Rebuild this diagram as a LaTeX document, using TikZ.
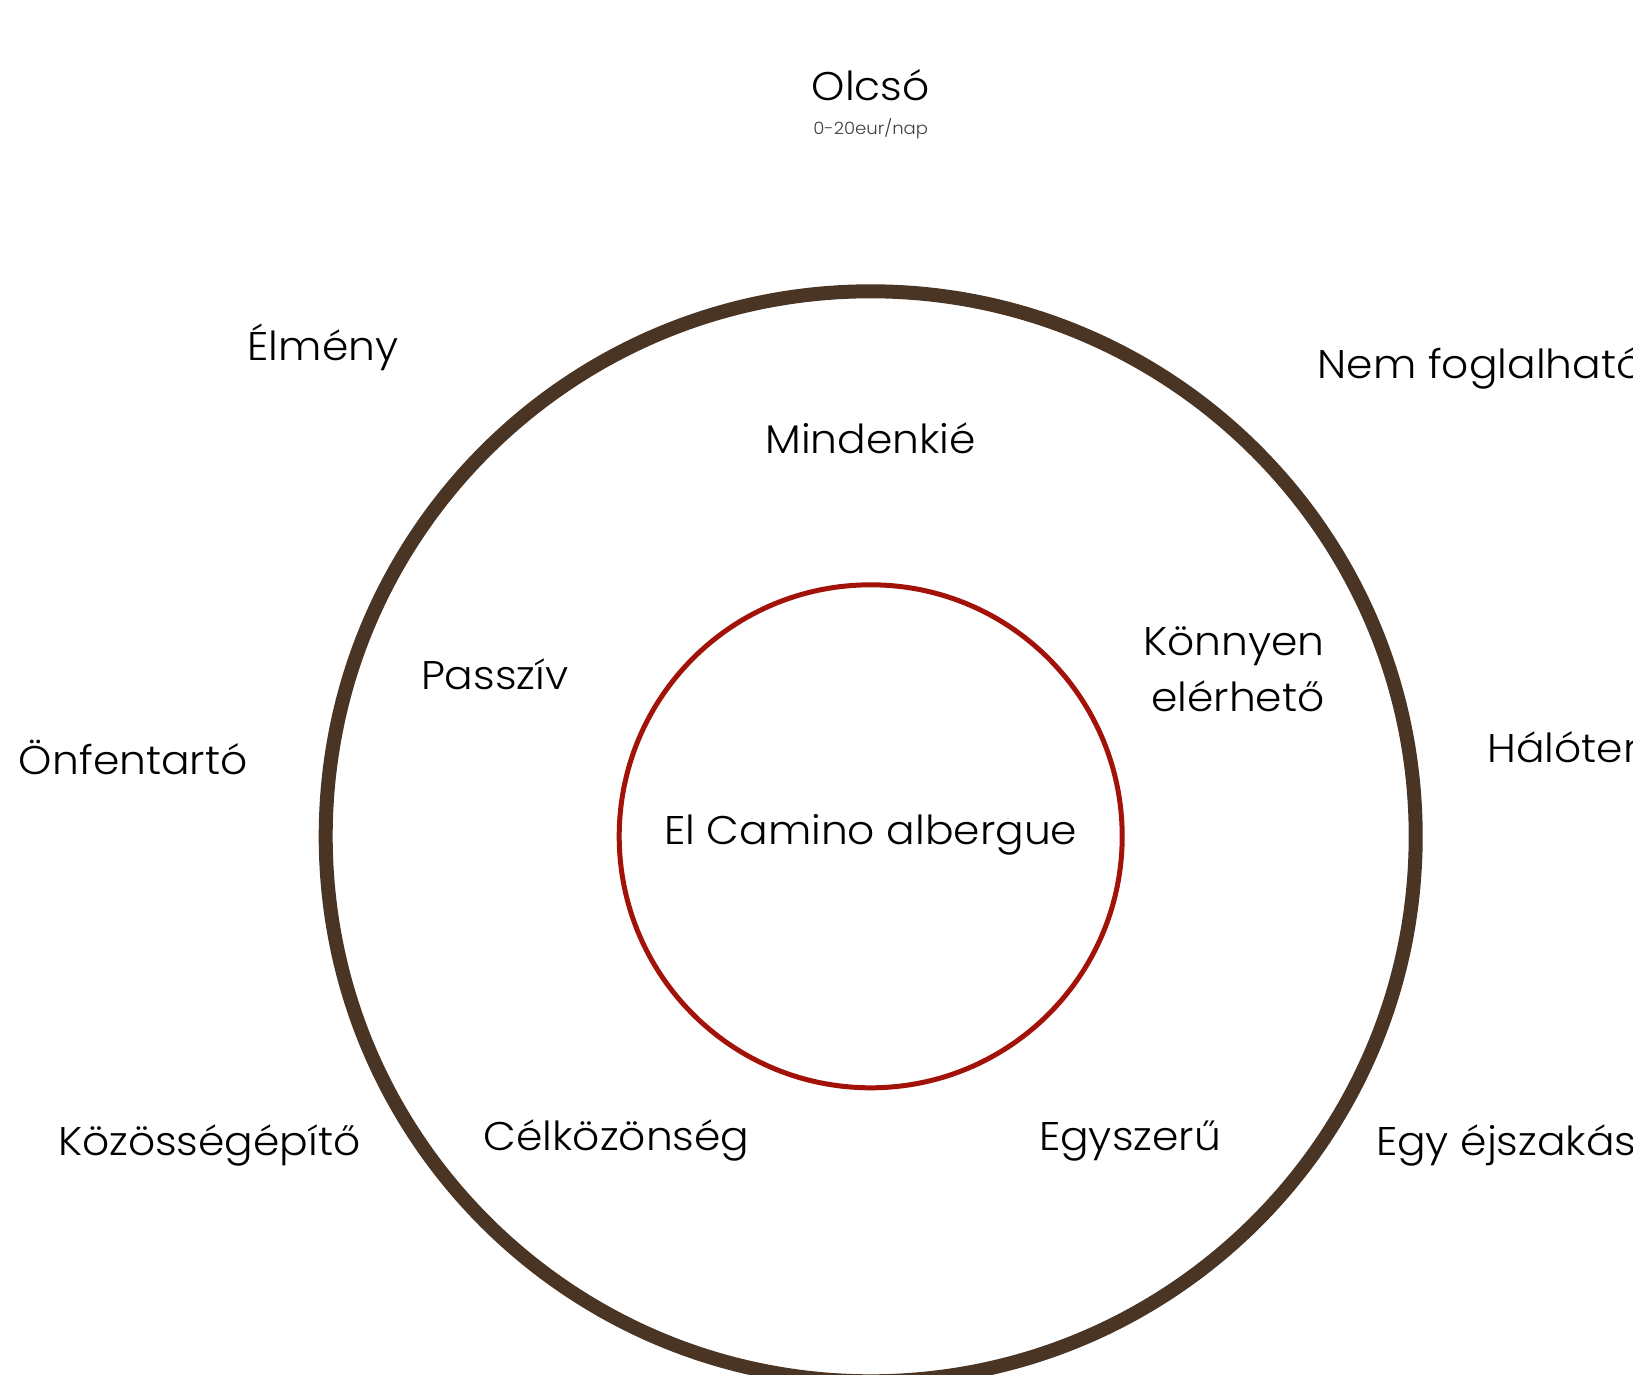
\documentclass[tikz,border=0pt]{standalone}
\usepackage{fontspec}
\setmainfont{Poppins}[UprightFont=* Light, FakeStretch=1.06]
\definecolor{outerbrown}{HTML}{4A3524}
\definecolor{innerred}{HTML}{A31208}
\begin{document}
\begin{tikzpicture}[x=1pt,y=-1pt,
  lbl/.style={inner sep=0pt, font=\fontsize{40}{44}\selectfont, anchor=base},
  lblL/.style={lbl, anchor=base west},
  small/.style={inner sep=0pt, font=\fontsize{17}{19}\selectfont, text=black!75, anchor=base}]
\useasboundingbox (0,0) rectangle (1633,1374);
\clip (0,0) rectangle (1633,1374);
\fill[white] (0,0) rectangle (1633,1374);
\coordinate (c) at (870.7,836.3);
\draw[outerbrown, line width=14pt] (c) circle[radius=545];
\draw[innerred, line width=5pt] (c) circle[radius=251.5];
\node[lbl] (olcso) at (870.7,100) {Olcsó};
\node[small] (ar) at (870.7,134) {0-20eur/nap};
\node[lbl] (elmeny) at (323,360) {Élmény};
\node[lblL] (nemfog) at (1317.5,378) {Nem foglalható};
\node[lbl] (minden) at (870.7,453) {Mindenkié};
\node[lbl] (passziv) at (494.7,689.5) {Passzív};
\node[lbl, anchor=base east] (konnyen) at (1324.8,655) {Könnyen};
\node[lbl, anchor=base east] (elerheto) at (1324.8,711) {elérhető};
\node[lbl] (onfent) at (133.3,774) {Önfentartó};
\node[lblL] (halo) at (1487.3,762) {Hálóterem};
\node[lbl] (camino) at (870.7,844.7) {El Camino albergue};
\node[lbl] (kozos) at (209.3,1155) {Közösségépítő};
\node[lbl] (celk) at (616.6,1150) {Célközönség};
\node[lbl] (egysz) at (1130,1150) {Egyszerű};
\node[lblL] (egyej) at (1375.8,1155) {Egy éjszakás};
\end{tikzpicture}
\end{document}
